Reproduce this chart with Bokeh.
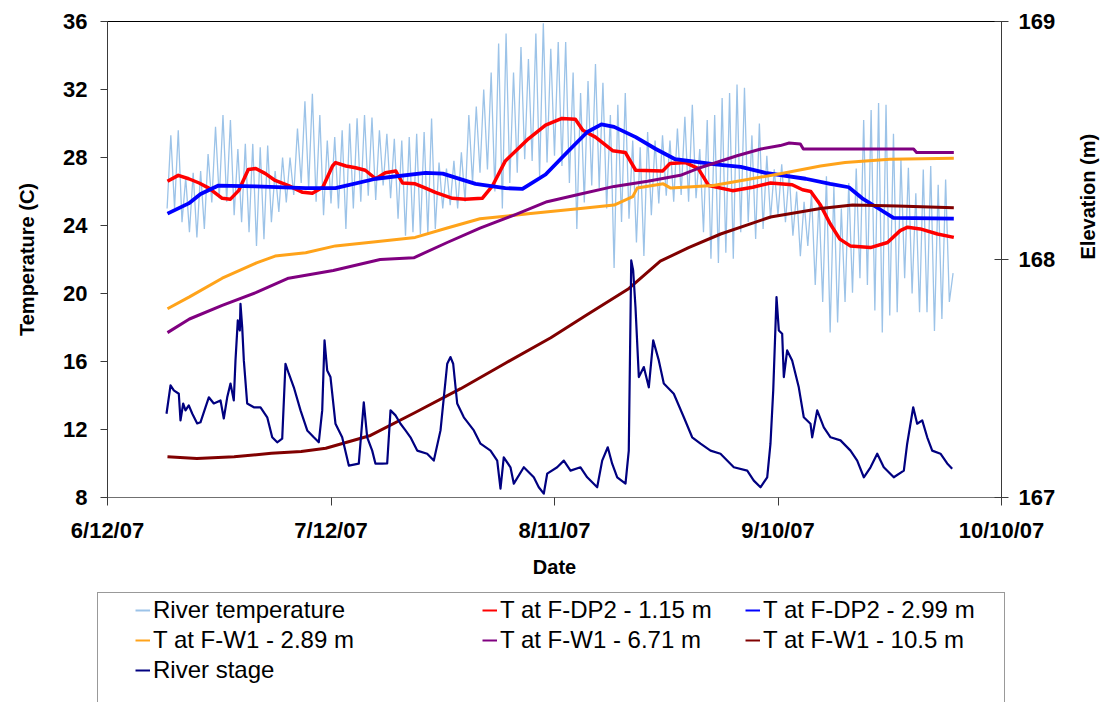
import math
from bokeh.plotting import figure
from bokeh.layouts import column
from bokeh.models import Range1d, LinearAxis, FixedTicker, Legend, LegendItem
from bokeh.embed import file_html
from bokeh.resources import INLINE

# ---------------------------------------------------------------------------
# Data (x in days since 6/12/07)
# ---------------------------------------------------------------------------
x_ticks = [0, 30, 60, 90, 120]
x_tick_labels = ["6/12/07", "7/12/07", "8/11/07", "9/10/07", "10/10/07"]
temp_ticks = [8, 12, 16, 20, 24, 28, 32, 36]
elev_ticks = [167, 168, 169]

# River temperature: half-day readings starting on day 8 (night low, day high)
river_temp_start_day = 8.0
river_temp_step_days = 0.5
river_temp_low = [
    25.0,
    25.0, 24.2, 23.6, 23.3, 23.8, 25.35, 25.6, 25.4, 24.6, 24.2,
    23.6, 22.8, 23.2, 24.2, 24.8, 25.35, 25.8, 26.5, 26.2, 25.4,
    24.6, 25.3, 25.0, 23.8, 25.0, 25.4, 25.75, 25.5, 26.35, 25.6,
    24.4, 23.4, 23.6, 23.5, 23.5, 23.8, 25.0, 25.2, 25.0, 25.4,
    26.5, 27.1, 27.3, 26.0, 25.0, 26.5, 27.1, 27.9, 27.8, 26.9,
    27.7, 28.1, 27.5, 26.5, 23.8, 25.35, 26.35, 26.2, 25.0, 21.5,
    24.2, 24.4, 23.0, 22.2, 24.6, 25.3, 25.75, 25.4, 25.8, 25.4,
    25.6, 23.6, 22.05, 21.8, 22.4, 22.05, 23.6, 24.2, 23.2, 23.8,
    24.4, 24.6, 24.2, 23.4, 22.2, 22.8, 20.5, 19.5, 17.7, 18.3,
    19.5, 20.05, 20.9, 20.5, 19.0, 17.7, 18.7, 18.9, 20.9, 20.0,
    18.9, 18.9, 17.8, 18.5, 19.5,
]
river_temp_high = [
    29.3, 29.6, 26.8, 27.1, 27.2, 28.2, 29.8, 30.5, 30.2, 28.5,
    28.8, 28.8, 28.6, 28.7, 27.2, 28.0, 28.0, 29.7, 31.3, 31.75,
    30.5, 29.0, 29.2, 29.6, 30.0, 30.3, 30.5, 30.35, 29.6, 29.4,
    29.1, 29.0, 29.2, 29.4, 29.5, 30.3, 27.7, 27.35, 27.8, 28.3,
    30.5, 31.0, 32.0, 33.0, 34.7, 35.3, 33.0, 34.5, 33.8, 35.3,
    35.9, 34.4, 34.8, 34.8, 33.0, 31.8, 32.5, 33.5, 32.4, 30.5,
    31.1, 31.8, 29.0, 28.6, 29.5, 29.0, 29.3, 29.0, 29.7, 30.4,
    31.1, 28.5, 30.2, 30.5, 31.5, 31.8, 32.3, 32.1, 29.3, 30.0,
    28.1, 27.3, 27.6, 27.1, 26.0, 25.4, 25.9, 25.5, 26.9, 26.3,
    25.0, 26.5, 27.35, 30.2, 30.8, 31.2, 31.1, 29.4, 27.9, 27.4,
    25.9, 27.3, 27.5, 26.4, 26.7, 21.2,
]

# T at F-DP2 - 1.15 m
dp2_115_day = [8.05, 9.5, 10.9, 12.3, 13.6, 15.4, 16.5, 17.6, 18.9, 19.9,
               21.2, 22.5, 24.3, 26.2, 27.5, 28.9, 30.2, 30.6, 32.0, 33.3,
               34.6, 36.0, 37.3, 38.7, 39.6, 41.3, 42.7, 44.0, 46.3, 48.0,
               50.3, 51.7, 53.4, 56.5, 58.8, 61.0, 62.8, 63.8, 65.5, 67.8,
               69.5, 70.9, 74.5, 75.5, 77.6, 79.3, 80.7, 83.9, 86.6, 89.0,
               91.9, 93.3, 94.4, 95.7, 97.0, 98.3, 99.7, 102.4, 104.7, 106.4,
               107.4, 109.1, 111.4, 113.6]
dp2_115_temp = [26.6, 26.95, 26.75, 26.5, 26.2, 25.6, 25.55, 26.05, 27.3, 27.35,
                27.05, 26.65, 26.35, 25.95, 25.9, 26.25, 27.5, 27.7, 27.5, 27.4,
                27.25, 26.75, 27.1, 27.2, 26.5, 26.45, 26.2, 25.95, 25.6, 25.55,
                25.6, 26.35, 27.8, 29.1, 29.9, 30.3, 30.25, 29.6, 29.2, 28.4,
                28.3, 27.25, 27.2, 27.65, 27.7, 27.35, 26.35, 26.05, 26.25, 26.5,
                26.4, 26.1, 26.0, 25.2, 24.1, 23.2, 22.8, 22.7, 23.0, 23.7,
                23.9, 23.8, 23.5, 23.3]

# T at F-DP2 - 2.99 m
dp2_299_day = [8.05, 10.9, 12.5, 14.9, 19.9, 26.6, 30.6, 36.0, 42.7, 45.0,
               49.4, 53.4, 55.7, 58.8, 61.9, 64.4, 66.3, 68.0, 70.9, 73.6,
               76.2, 81.6, 85.0, 88.3, 93.7, 97.0, 99.5, 101.3, 103.5, 105.5,
               113.6]
dp2_299_temp = [24.7, 25.3, 25.85, 26.35, 26.3, 26.2, 26.2, 26.75, 27.1, 27.05,
                26.45, 26.2, 26.15, 27.0, 28.4, 29.5, 29.95, 29.8, 29.2, 28.5,
                27.9, 27.6, 27.45, 27.1, 26.75, 26.45, 26.25, 25.6, 25.0, 24.45,
                24.4]

# T at F-W1 - 2.89 m
w1_289_day = [8.05, 11.0, 15.4, 20.0, 22.5, 26.6, 30.6, 36.0, 41.3, 45.6,
              50.0, 56.8, 63.5, 68.0, 70.5, 71.1, 74.6, 75.6, 81.3, 85.9,
              90.3, 95.7, 99.0, 105.0, 113.6]
w1_289_temp = [19.1, 19.8, 20.9, 21.8, 22.2, 22.4, 22.8, 23.05, 23.3, 23.85,
               24.4, 24.7, 25.0, 25.2, 25.7, 26.2, 26.45, 26.2, 26.35, 26.7,
               27.05, 27.5, 27.7, 27.9, 27.95]

# T at F-W1 - 6.71 m
w1_671_day = [8.05, 11.0, 15.4, 19.9, 24.3, 30.3, 36.6, 41.1, 45.6, 50.0,
              54.5, 59.0, 63.5, 68.0, 72.5, 76.9, 79.2, 81.3, 84.5, 87.7,
              90.3, 91.5, 93.0, 93.4, 108.2, 108.6, 113.6]
w1_671_temp = [17.7, 18.5, 19.3, 20.05, 20.9, 21.35, 22.0, 22.1, 23.0, 23.85,
               24.6, 25.4, 25.85, 26.3, 26.6, 26.95, 27.35, 27.65, 28.1, 28.5,
               28.7, 28.85, 28.8, 28.5, 28.5, 28.3, 28.3]

# T at F-W1 - 10.5 m
w1_105_day = [8.05, 12.0, 17.0, 22.0, 26.0, 29.3, 35.3, 41.3, 47.4, 53.4,
              59.5, 64.2, 70.0, 74.2, 78.0, 82.3, 89.0, 95.7, 100.0, 106.0,
              113.6]
w1_105_temp = [10.4, 10.3, 10.4, 10.6, 10.7, 10.9, 11.65, 13.0, 14.4, 15.9,
               17.4, 18.7, 20.3, 21.9, 22.7, 23.5, 24.5, 25.0, 25.2, 25.15,
               25.05]

# River stage (elevation, m)
stage_day = [7.92, 8.46, 8.90, 9.57, 9.80, 10.16, 10.47, 10.91, 11.37, 12.04,
             12.48, 13.15, 13.60, 14.27, 15.17, 15.61, 16.07, 16.51, 16.95, 17.18,
             17.49, 17.76, 17.85, 18.08, 18.30, 18.75, 19.64, 20.54, 21.44, 22.11,
             22.78, 23.45, 23.89, 24.34, 25.01, 25.91, 26.81, 27.69, 28.36, 28.82,
             29.13, 29.49, 29.93, 30.60, 31.50, 32.39, 33.73, 34.40, 34.86, 35.53,
             35.97, 36.87, 37.54, 37.99, 38.66, 39.33, 40.00, 40.67, 41.57, 42.91,
             43.80, 44.70, 45.60, 46.04, 46.40, 46.94, 47.83, 49.17, 50.07, 51.41,
             52.31, 52.75, 53.19, 54.09, 54.54, 55.88, 57.22, 57.89, 58.56, 59.02,
             60.36, 61.25, 62.15, 63.49, 64.39, 65.73, 66.40, 67.15, 67.74, 68.42,
             69.53, 69.97, 70.30, 70.56, 70.87, 71.32, 71.99, 72.66, 73.25, 74.00,
             74.67, 76.01, 77.36, 78.48, 79.60, 80.94, 82.28, 84.07, 85.87, 86.75,
             87.65, 88.55, 88.99, 89.36, 89.80, 90.11, 90.56, 90.78, 91.23, 91.90,
             92.79, 93.46, 94.36, 94.59, 95.26, 96.15, 97.05, 98.39, 99.73, 100.63,
             101.52, 102.42, 103.32, 104.20, 105.54, 106.89, 107.34, 108.15, 108.68, 109.36,
             110.03, 110.70, 111.81, 112.71, 113.38]
stage_elev = [167.352, 167.471, 167.450, 167.436, 167.324, 167.395, 167.366, 167.387, 167.353, 167.311,
              167.316, 167.379, 167.421, 167.395, 167.408, 167.332, 167.421, 167.479, 167.408, 167.576,
              167.744, 167.702, 167.814, 167.716, 167.576, 167.395, 167.379, 167.379, 167.337, 167.253,
              167.232, 167.247, 167.562, 167.520, 167.463, 167.366, 167.282, 167.253, 167.232, 167.366,
              167.660, 167.534, 167.506, 167.310, 167.253, 167.134, 167.142, 167.400, 167.253, 167.197,
              167.142, 167.142, 167.143, 167.366, 167.345, 167.310, 167.282, 167.253, 167.197, 167.184,
              167.155, 167.282, 167.562, 167.590, 167.562, 167.395, 167.337, 167.282, 167.226, 167.197,
              167.155, 167.037, 167.169, 167.127, 167.058, 167.127, 167.085, 167.043, 167.016, 167.100,
              167.127, 167.155, 167.113, 167.127, 167.085, 167.043, 167.155, 167.211, 167.142, 167.085,
              167.058, 167.197, 167.996, 167.954, 167.800, 167.506, 167.548, 167.463, 167.660, 167.576,
              167.479, 167.436, 167.337, 167.253, 167.226, 167.197, 167.184, 167.127, 167.113, 167.071,
              167.043, 167.085, 167.226, 167.450, 167.842, 167.702, 167.688, 167.506, 167.618, 167.576,
              167.463, 167.337, 167.310, 167.253, 167.366, 167.295, 167.253, 167.240, 167.197, 167.155,
              167.085, 167.127, 167.184, 167.127, 167.085, 167.113, 167.226, 167.379, 167.310, 167.324,
              167.253, 167.197, 167.184, 167.143, 167.121]

# Series names and colours (legend order)
series_names = ["River temperature", "T at F-DP2 - 1.15 m", "T at F-DP2 - 2.99 m",
                "T at F-W1 - 2.89 m", "T at F-W1 - 6.71 m", "T at F-W1 - 10.5 m",
                "River stage"]
series_colors = ["#9cc3e8", "#ff0000", "#0000ff", "#ffa31a", "#800080", "#800000", "#000080"]

# ---------------------------------------------------------------------------
# Derived series
# ---------------------------------------------------------------------------
river_temp = []
for lo, hi in zip(river_temp_low, river_temp_high):
    river_temp.extend([lo, hi])
river_temp_day = [river_temp_start_day + river_temp_step_days * i for i in range(len(river_temp))]

FONT = "Liberation Sans"

# ---------------------------------------------------------------------------
# Main chart
# ---------------------------------------------------------------------------
p = figure(width=1114, height=592,
           x_range=Range1d(0, 120), y_range=Range1d(8, 36),
           output_backend="svg", toolbar_location=None,
           min_border_left=107, min_border_right=113,
           min_border_top=21, min_border_bottom=95)
p.frame_align = False
p.extra_y_ranges = {"elev": Range1d(167, 169)}
p.grid.visible = False
p.outline_line_color = "black"
p.outline_line_width = 1
p.background_fill_color = "white"
p.border_fill_color = "white"

c = series_colors
p.line(river_temp_day, river_temp, line_color=c[0], line_width=1.3)
p.line(dp2_115_day, dp2_115_temp, line_color=c[1], line_width=3.5, line_join="round")
p.line(dp2_299_day, dp2_299_temp, line_color=c[2], line_width=3.8, line_join="round")
p.line(w1_289_day, w1_289_temp, line_color=c[3], line_width=3, line_join="round")
p.line(w1_671_day, w1_671_temp, line_color=c[4], line_width=3, line_join="round")
p.line(w1_105_day, w1_105_temp, line_color=c[5], line_width=3, line_join="round")
p.line(stage_day, stage_elev, y_range_name="elev",
       line_color=c[6], line_width=2.2, line_join="round")

# Axes
xa = p.xaxis[0]
xa.ticker = FixedTicker(ticks=x_ticks)
xa.major_label_overrides = dict(zip(x_ticks, x_tick_labels))
xa.axis_label = "Date"
xa.major_tick_out = 8
xa.major_label_standoff = 12
xa.axis_label_standoff = 10

ya = p.yaxis[0]
ya.ticker = FixedTicker(ticks=temp_ticks)
ya.axis_label = "Temperature (C)"
ya.major_tick_out = 7
ya.major_label_standoff = 13
ya.axis_label_standoff = 22

ra = LinearAxis(y_range_name="elev", ticker=FixedTicker(ticks=elev_ticks),
                axis_label="Elevation (m)")
ra.major_tick_in = 7
ra.major_tick_out = 7
ra.major_label_standoff = 10
ra.axis_label_standoff = 30
ra.axis_label_orientation = math.pi / 2
p.add_layout(ra, "right")

for ax in (xa, ya, ra):
    ax.major_label_text_font = FONT
    ax.major_label_text_font_size = "22px"
    ax.major_label_text_font_style = "bold"
    ax.major_label_text_color = "black"
    ax.axis_label_text_font = FONT
    ax.axis_label_text_font_size = "20px"
    ax.axis_label_text_font_style = "bold"
    ax.axis_label_text_color = "black"
    ax.minor_tick_line_color = None
    ax.axis_line_color = "#3a3a3a"
    ax.major_tick_line_color = "#3a3a3a"
xa.major_tick_in = 0
ya.major_tick_in = 0
xa.axis_line_color = "#707070"

# ---------------------------------------------------------------------------
# Legend strip below the chart
# ---------------------------------------------------------------------------
lp = figure(width=1114, height=110, x_range=Range1d(0, 1), y_range=Range1d(0, 1),
            output_backend="svg", toolbar_location=None,
            x_axis_location=None, y_axis_location=None, min_border=0)
lp.frame_align = False
lp.grid.visible = False
lp.outline_line_color = None
lp.background_fill_color = "white"
lp.border_fill_color = "white"

# legend keys: one-point lines carry each series' line style (nothing is drawn)
swatches = [lp.line(x=[0], y=[0], line_color=col, line_width=2) for col in series_colors]
frame_r = lp.line(x=[0], y=[0], line_alpha=0)

legend_box = Legend(items=[LegendItem(label=" ", renderers=[frame_r])],
                    location=(97, -6), padding=0, margin=0, spacing=0,
                    glyph_width=1, glyph_height=1, label_standoff=0,
                    label_width=905, label_height=114,
                    border_line_color="#333333", border_line_width=1,
                    background_fill_color="white", background_fill_alpha=1)
lp.add_layout(legend_box)

col_style = dict(padding=0, margin=0, spacing=2, glyph_width=15, glyph_height=28,
                 label_standoff=3, label_height=28,
                 label_text_font=FONT, label_text_font_size="24px",
                 label_text_color="black",
                 border_line_color=None, background_fill_alpha=0)

def legend_column(indices, x, y):
    items = [LegendItem(label=series_names[i], renderers=[swatches[i]]) for i in indices]
    return Legend(items=items, location=(x, y), **col_style)

for lg in (legend_column([0, 3, 6], 135, 18),
           legend_column([1, 4], 482, 48),
           legend_column([2, 5], 745, 48)):
    lp.add_layout(lg)

layout = column(p, lp, spacing=0)
open("out.html", "w").write(file_html(layout, INLINE))
